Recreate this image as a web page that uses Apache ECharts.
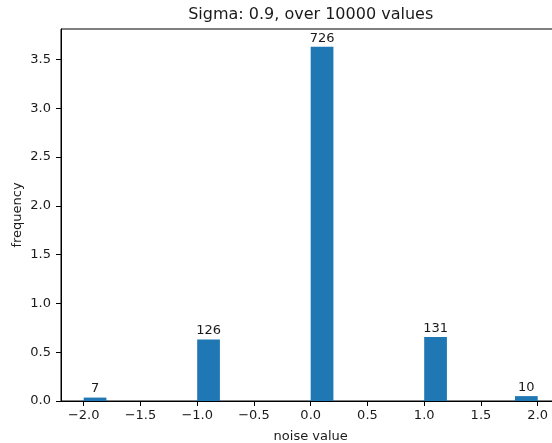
<!DOCTYPE html>
<html>
<head>
<meta charset="utf-8">
<script src="https://cdn.jsdelivr.net/npm/echarts@6/dist/echarts.min.js"></script>
<style>html,body{margin:0;padding:0;background:#fff}#c{width:552px;height:443px}</style>
</head>
<body>
<div id="c"></div>
<script>
const binStart = [-2.0, -1.0, 0.0, 1.0, 1.8];
const binEnd = [-1.8, -0.8, 0.2, 1.2, 2.0];
const counts = [7, 126, 726, 131, 10];
const density = [0.035, 0.63, 3.63, 0.655, 0.05];
const xTicks = [-2.0, -1.5, -1.0, -0.5, 0.0, 0.5, 1.0, 1.5, 2.0];
const yTicks = [0.0, 0.5, 1.0, 1.5, 2.0, 2.5, 3.0, 3.5];
const titleText = 'Sigma: 0.9, over 10000 values';

const FONT = 'DejaVu Sans';
const TXT = '#1a1a1a';
const data = binStart.map((s, i) => [s, binEnd[i], density[i], counts[i]]);
const fmt = v => { const s = Number(v).toFixed(1); return s.replace('-', '\u2212'); };

const chart = echarts.init(document.getElementById('c'), null, {renderer: 'canvas'});
chart.setOption({
  animation: false,
  backgroundColor: '#fff',
  title: {
    text: titleText, left: 310.7, top: 7, padding: 0, textAlign: 'center',
    textStyle: {fontFamily: FONT, fontSize: 16, fontWeight: 'normal', color: TXT}
  },
  grid: {left: 61, top: 29, width: 499.4, height: 372, show: true, borderColor: '#000', borderWidth: 1,
         backgroundColor: 'transparent', containLabel: false, outerBoundsMode: 'none'},
  xAxis: {
    type: 'value', min: -2.2, max: 2.2,
    name: 'noise value', nameLocation: 'middle', nameGap: 29, nameMoveOverlap: false,
    nameTextStyle: {fontFamily: FONT, fontSize: 13, color: TXT},
    axisLine: {show: true, onZero: false, lineStyle: {color: '#000', width: 1}},
    axisTick: {show: true, length: 5, customValues: xTicks, lineStyle: {color: '#000'}},
    axisLabel: {customValues: xTicks, formatter: fmt, margin: 8, fontFamily: FONT, fontSize: 13, color: TXT},
    splitLine: {show: false}
  },
  yAxis: {
    type: 'value', min: 0, max: 3.8115,
    name: 'frequency', nameLocation: 'middle', nameGap: 37, nameRotate: 90, nameMoveOverlap: false,
    nameTextStyle: {fontFamily: FONT, fontSize: 13, color: TXT},
    axisLine: {show: true, onZero: false, lineStyle: {color: '#000', width: 1}},
    axisTick: {show: true, length: 5, customValues: yTicks, lineStyle: {color: '#000'}},
    axisLabel: {customValues: yTicks, formatter: fmt, margin: 10, fontFamily: FONT, fontSize: 13, color: TXT},
    splitLine: {show: false}
  },
  series: [{
    type: 'custom',
    data: data,
    encode: {x: [0, 1], y: 2},
    renderItem: function (params, api) {
      const p0 = api.coord([api.value(0), 0]);
      const p1 = api.coord([api.value(1), api.value(2)]);
      const cx = (p0[0] + p1[0]) / 2;
      return {
        type: 'group',
        children: [
          {type: 'rect', shape: {x: p0[0], y: p1[1], width: p1[0] - p0[0], height: p0[1] - p1[1]},
           style: {fill: '#1f77b4'}},
          {type: 'text', style: {text: String(api.value(3)), x: cx, y: p1[1] - 2, align: 'center', verticalAlign: 'bottom',
           font: '13px "DejaVu Sans"', fill: TXT}}
        ]
      };
    }
  }]
});
</script>
</body>
</html>
